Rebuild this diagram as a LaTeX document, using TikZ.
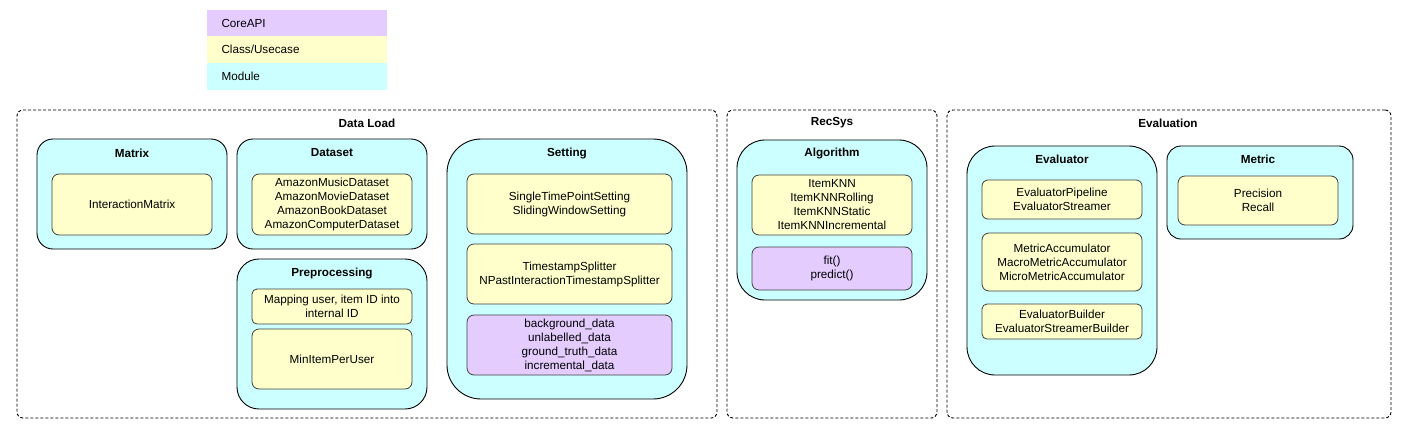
\documentclass[tikz,border=0pt]{standalone}
\usepackage{fontspec}
\setmainfont{Liberation Sans}
\definecolor{cApi}{HTML}{E5CCFF}
\definecolor{cUse}{HTML}{FFFFCC}
\definecolor{cMod}{HTML}{CCFFFF}
\tikzset{
  groupbox/.style={draw, line width=0.9pt, dash pattern=on 3pt off 2pt, rounded corners=6pt, inner sep=0pt},
  modbox/.style={draw, fill=cMod, line width=0.9pt, rounded corners=#1, inner sep=0pt},
  modbox/.default=20pt,
  classbox/.style={draw=black!75, fill=cUse, line width=0.8pt, rounded corners=7pt, align=center, inner sep=0pt},
  apibox/.style={classbox, fill=cApi},
  titletext/.style={font=\fontsize{11.7}{14}\selectfont\bfseries},
  legendrow/.style={fill=#1, minimum width=180pt, inner sep=0pt}
}
\begin{document}
\begin{tikzpicture}[x=1pt,y=-1pt,font=\fontsize{11.7}{14}\selectfont]
	\useasboundingbox (0,0) rectangle (1410,440);
	% legend
		\node[legendrow=cApi, minimum height=26pt] (legApi) at (297,23) {};
		\node[legendrow=cUse, minimum height=27pt] (legUse) at (297,49.5) {};
		\node[legendrow=cMod, minimum height=27pt] (legMod) at (297,76.5) {};
		\node[anchor=west] at (218,23) {CoreAPI};
		\node[anchor=west] at (218,49.5) {Class/Usecase};
		\node[anchor=west] at (218,76.5) {Module};
	% data load
		\node[groupbox, minimum width=700pt, minimum height=308pt] (dataLoad) at (367,264) {};
		\node[titletext] (dataLoadT) at (367,123) {Data Load};
		% matrix
		\node[modbox=16pt, minimum width=190pt, minimum height=110pt] (matrix) at (132,194) {};
		\node[titletext] (matrixT) at (132,153) {Matrix};
		\node[classbox, minimum width=160pt, minimum height=61pt] (interMat) at (132,204.5) {InteractionMatrix};
		% dataset
		\node[modbox=16pt, minimum width=190pt, minimum height=110pt] (dataset) at (332,194) {};
		\node[titletext] (datasetT) at (332,153) {Dataset};
		\node[classbox, minimum width=160pt, minimum height=61pt] (amazon) at (332,204.5)
			{AmazonMusicDataset\\AmazonMovieDataset\\AmazonBookDataset\\AmazonComputerDataset};
		% preprocessing
		\node[modbox=22pt, minimum width=190pt, minimum height=150pt] (prep) at (332,334) {};
		\node[titletext] (prepT) at (332,273) {Preprocessing};
		\node[classbox, rounded corners=5pt, minimum width=160pt, minimum height=35pt] (mapping) at (332,306.5)
			{Mapping user, item ID into\\internal ID};
		\node[classbox, minimum width=160pt, minimum height=60pt] (minItem) at (332,359) {MinItemPerUser};
		% setting
		\node[modbox=34pt, minimum width=240pt, minimum height=260pt] (setting) at (567,269) {};
		\node[titletext] (settingT) at (567,153) {Setting};
		\node[classbox, minimum width=205pt, minimum height=60pt] (settings) at (569.5,204)
			{SingleTimePointSetting\\SlidingWindowSetting};
		\node[classbox, minimum width=205pt, minimum height=60pt] (splitters) at (569.5,274)
			{TimestampSplitter\\NPastInteractionTimestampSplitter};
		\node[apibox, minimum width=205pt, minimum height=60pt] (dataApi) at (569.5,345)
			{background\_data\\unlabelled\_data\\ground\_truth\_data\\incremental\_data};
	% recsys
		\node[groupbox, minimum width=210pt, minimum height=308pt] (recSys) at (832,264) {};
		\node[titletext] (recSysT) at (832,123) {RecSys};
		\node[modbox=28pt, minimum width=190pt, minimum height=160pt] (algo) at (832,220) {};
		\node[titletext] (algoT) at (832,153) {Algorithm};
		\node[classbox, minimum width=160pt, minimum height=60pt] (itemKnn) at (832,205)
			{ItemKNN\\ItemKNNRolling\\ItemKNNStatic\\ItemKNNIncremental};
		\node[apibox, minimum width=160pt, minimum height=43pt] (algoApi) at (832,268.5) {fit()\\predict()};
	% evaluation
		\node[groupbox, minimum width=444pt, minimum height=308pt] (evaluation) at (1169,264) {};
		\node[titletext] (evaluationT) at (1168,123) {Evaluation};
		% evaluator
		\node[modbox=28pt, minimum width=190pt, minimum height=229pt] (evaluator) at (1062,260.5) {};
		\node[titletext] (evaluatorT) at (1062,159) {Evaluator};
		\node[classbox, rounded corners=6pt, minimum width=160pt, minimum height=39pt] (pipeline) at (1062,199.5)
			{EvaluatorPipeline\\EvaluatorStreamer};
		\node[classbox, minimum width=160pt, minimum height=58pt] (accum) at (1062,262)
			{MetricAccumulator\\MacroMetricAccumulator\\MicroMetricAccumulator};
		\node[classbox, rounded corners=5pt, minimum width=160pt, minimum height=35pt] (builder) at (1062,321.5)
			{EvaluatorBuilder\\EvaluatorStreamerBuilder};
		% metric
		\node[modbox=14pt, minimum width=186pt, minimum height=93pt] (metric) at (1260,192.5) {};
		\node[titletext] (metricT) at (1258,159) {Metric};
		\node[classbox, minimum width=160pt, minimum height=49pt] (prec) at (1258,200.5) {Precision\\Recall};
\end{tikzpicture}
\end{document}
